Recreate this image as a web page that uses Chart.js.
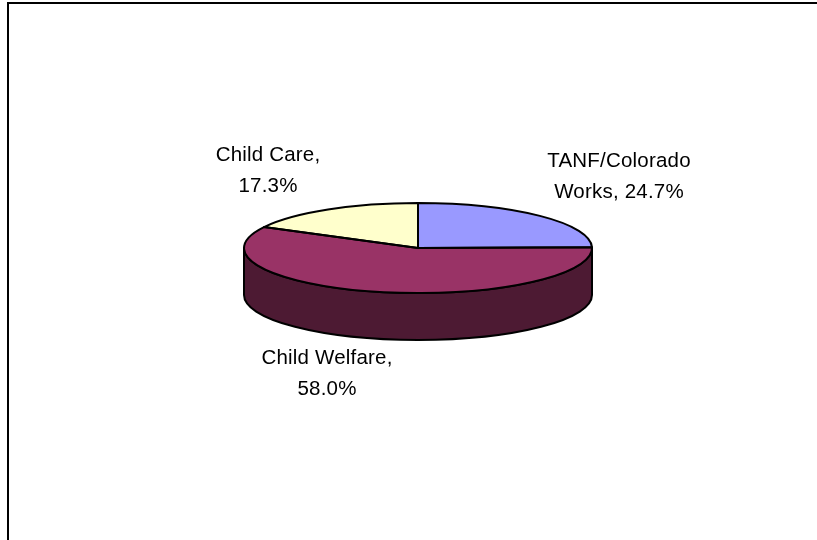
<!DOCTYPE html>
<html>
<head>
<meta charset="utf-8">
<style>
  html, body { margin: 0; padding: 0; background: #fff; overflow: hidden; }
  #wrap { position: relative; width: 817px; height: 540px; }
</style>
<script src="https://cdn.jsdelivr.net/npm/chart.js@4"></script>
</head>
<body>
<div id="wrap"><canvas id="pie" width="817" height="540"></canvas></div>
<script>
// --- Data ---
const categories = ['TANF/Colorado Works', 'Child Welfare', 'Child Care'];
const shares = [24.7, 58.0, 17.3];
const labelHeads = ['TANF/Colorado', 'Child Welfare,', 'Child Care,'];
const labelTails = ['Works, ', '', ''];

// --- Look ---
const topColors = ['#9999ff', '#993366', '#ffffcc'];
const wallColor = '#4d1a33';
const squash = 0.2586;
const depth = 47;
const edgeWidth = 2;
// centre x and the two baselines of each label
const labelSpots = [[619, 167, 198], [327, 364, 395], [268, 161, 192]];

function slicePath(ctx, arc) {
    ctx.beginPath();
    ctx.moveTo(arc.x, arc.y);
    ctx.ellipse(arc.x, arc.y, arc.outerRadius, arc.outerRadius * squash, 0, arc.startAngle, arc.endAngle);
    ctx.closePath();
}

// Flattens the pie into a tilted disc and adds the side wall under it
const tiltPlugin = {
    id: 'tilt',
    beforeDatasetsDraw(chart) {
        const ctx = chart.ctx;
        const a = chart.getDatasetMeta(0).data[0];
        const ry = a.outerRadius * squash;
        ctx.save();
        ctx.strokeStyle = '#000';
        ctx.lineWidth = edgeWidth;
        ctx.lineJoin = 'round';
        // only the front half of the wall shows
        ctx.beginPath();
        ctx.ellipse(a.x, a.y, a.outerRadius, ry, 0, 0, Math.PI);
        ctx.lineTo(a.x - a.outerRadius, a.y + depth);
        ctx.ellipse(a.x, a.y + depth, a.outerRadius, ry, 0, Math.PI, 0, true);
        ctx.closePath();
        ctx.fillStyle = wallColor;
        ctx.fill();
        ctx.stroke();
        ctx.restore();
    },
    beforeDatasetDraw(chart) {
        const ctx = chart.ctx;
        const a = chart.getDatasetMeta(0).data[0];
        ctx.save();
        ctx.translate(a.x, a.y);
        ctx.scale(1, squash);
        ctx.translate(-a.x, -a.y);
    },
    afterDatasetDraw(chart) {
        const ctx = chart.ctx;
        ctx.restore();
        // outlines go on after the transform so the pen stays even
        ctx.save();
        ctx.strokeStyle = '#000';
        ctx.lineWidth = edgeWidth;
        ctx.lineJoin = 'round';
        chart.getDatasetMeta(0).data.forEach(arc => {
            slicePath(ctx, arc);
            ctx.stroke();
        });
        ctx.restore();
    },
    afterDraw(chart) {
        const ctx = chart.ctx;
        ctx.save();
        // outer frame, open on the right and bottom
        ctx.strokeStyle = '#000';
        ctx.lineWidth = 2;
        ctx.beginPath();
        ctx.moveTo(8, 540);
        ctx.lineTo(8, 3);
        ctx.lineTo(817, 3);
        ctx.stroke();
        // slice labels
        ctx.fillStyle = '#000';
        ctx.font = '20.5px "Liberation Sans", Arial, sans-serif';
        ctx.letterSpacing = '0.2px';
        ctx.textAlign = 'center';
        ctx.textBaseline = 'alphabetic';
        labelHeads.forEach((head, i) => {
            const s = labelSpots[i];
            ctx.fillText(head, s[0], s[1]);
            ctx.fillText(labelTails[i] + shares[i].toFixed(1) + '%', s[0], s[2]);
        });
        ctx.restore();
    }
};

new Chart(document.getElementById('pie'), {
    type: 'pie',
    data: {
        labels: categories,
        datasets: [{ data: shares, backgroundColor: topColors, borderWidth: 0 }]
    },
    options: {
        responsive: false,
        animation: false,
        layout: { padding: { left: 244, right: 225, top: 74, bottom: 118 } },
        plugins: { legend: { display: false }, tooltip: { enabled: false } }
    },
    plugins: [tiltPlugin]
});
</script>
</body>
</html>
